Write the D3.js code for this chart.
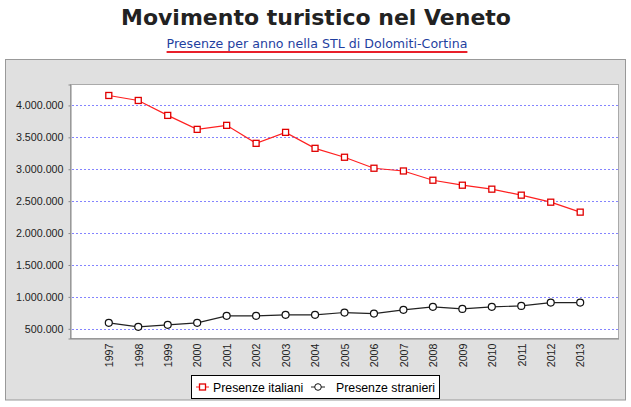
<!DOCTYPE html>
<html>
<head>
<meta charset="utf-8">
<script src="https://cdn.jsdelivr.net/npm/d3@7"></script>
<style>
  body { margin: 0; background: #fff; }
  svg { display: block; }
</style>
</head>
<body>
<svg width="631" height="407"></svg>
<script>
var years = ["1997","1998","1999","2000","2001","2002","2003","2004","2005","2006","2007","2008","2009","2010","2011","2012","2013"];
var italiani = [4156000, 4078000, 3844000, 3625000, 3688000, 3406000, 3578000, 3328000, 3188000, 3016000, 2973000, 2828000, 2750000, 2688000, 2594000, 2484000, 2328000];
var stranieri = [594000, 531000, 562000, 594000, 703000, 703000, 719000, 719000, 755000, 739000, 797000, 844000, 812000, 844000, 859000, 911000, 911000];
var yTicks = [500000, 1000000, 1500000, 2000000, 2500000, 3000000, 3500000, 4000000];
var seriesNames = ["Presenze italiani", "Presenze stranieri"];

var svg = d3.select("svg");

// outer gray panel
svg.append("rect")
  .attr("x", 5.5).attr("y", 59.5)
  .attr("width", 620).attr("height", 340.5)
  .attr("fill", "#e0e0e0")
  .attr("stroke", "#999");

// titles
svg.append("text")
  .attr("x", 316).attr("y", 25)
  .attr("text-anchor", "middle")
  .style("font-family", "DejaVu Sans")
  .style("font-weight", "bold")
  .style("font-size", "22px")
  .attr("fill", "#222")
  .text("Movimento turistico nel Veneto");

var sub = svg.append("text")
  .attr("x", 317).attr("y", 48)
  .attr("text-anchor", "middle")
  .style("font-family", "DejaVu Sans")
  .style("font-size", "12.6px")
  .attr("fill", "#1f3f9f")
  .text("Presenze per anno nella STL di Dolomiti-Cortina");
var sw = sub.node().getComputedTextLength();
svg.append("line")
  .attr("x1", 317 - sw / 2).attr("x2", 317 + sw / 2)
  .attr("y1", 52).attr("y2", 52)
  .attr("stroke", "#e8202a").attr("stroke-width", 2);

// plot area
var pLeft = 70.5, pTop = 84.5, pRight = 618.5, pBottom = 338.5;

var x = d3.scalePoint().domain(years).range([pLeft, pRight]).padding(1.3);
var y = d3.scaleLinear().domain([348000, 4328000]).range([pBottom, pTop]);

svg.append("rect")
  .attr("x", pLeft).attr("y", pTop)
  .attr("width", pRight - pLeft).attr("height", pBottom - pTop)
  .attr("fill", "#fff")
  .attr("stroke", "#aaa");

// gridlines
var grid = svg.append("g").attr("class", "grid");
yTicks.forEach(function(t) {
  var gy = Math.round(y(t)) + 0.5;
  grid.append("path")
    .attr("d", "M" + (pLeft + 1) + "," + gy + "H" + pRight)
    .attr("fill", "none")
    .attr("stroke", "#8484ff")
    .attr("stroke-width", 1)
    .attr("stroke-dasharray", "2,2")
    .attr("shape-rendering", "crispEdges");
});

// y axis
var fmt = function(d) { return d3.format(",")(d).replace(/,/g, "."); };
var yAxis = svg.append("g")
  .attr("transform", "translate(" + pLeft + ",0)")
  .call(d3.axisLeft(y).tickValues(yTicks).tickFormat(fmt).tickSize(2).tickPadding(5));
yAxis.select(".domain").attr("stroke", "#888");
yAxis.selectAll(".tick line").attr("stroke", "#888");
yAxis.selectAll("text")
  .style("font-family", "Liberation Sans")
  .style("font-size", "10.7px")
  .attr("fill", "#222");

// x axis
var xAxis = svg.append("g")
  .attr("transform", "translate(0," + pBottom + ")")
  .call(d3.axisBottom(x).tickSize(0));
xAxis.select(".domain").attr("stroke", "#888");
xAxis.selectAll("text")
  .style("font-family", "Liberation Sans")
  .style("font-size", "10.7px")
  .attr("fill", "#222")
  .attr("text-anchor", "end")
  .attr("transform", "rotate(-90)")
  .attr("x", -5)
  .attr("y", 0)
  .attr("dy", "0.35em");

// lines
var line = function(vals) {
  return d3.line()
    .x(function(d, i) { return x(years[i]); })
    .y(function(d) { return y(d); })(vals);
};

svg.append("path")
  .attr("d", line(stranieri))
  .attr("fill", "none")
  .attr("stroke", "#222")
  .attr("stroke-width", 1.2);

svg.append("path")
  .attr("d", line(italiani))
  .attr("fill", "none")
  .attr("stroke", "#ff2020")
  .attr("stroke-width", 1.2);

svg.append("g").selectAll("circle")
  .data(stranieri)
  .enter().append("circle")
  .attr("cx", function(d, i) { return x(years[i]); })
  .attr("cy", function(d) { return y(d); })
  .attr("r", 3.5)
  .attr("fill", "#fff")
  .attr("stroke", "#111")
  .attr("stroke-width", 1.2);

svg.append("g").selectAll("rect")
  .data(italiani)
  .enter().append("rect")
  .attr("x", function(d, i) { return x(years[i]) - 3; })
  .attr("y", function(d) { return y(d) - 3; })
  .attr("width", 6).attr("height", 6)
  .attr("fill", "#fff")
  .attr("stroke", "#e00000")
  .attr("stroke-width", 1.3);

// legend
var lg = svg.append("g");
lg.append("rect")
  .attr("x", 191.5).attr("y", 375.5)
  .attr("width", 248).attr("height", 23)
  .attr("fill", "#fff")
  .attr("stroke", "#000");

lg.append("line")
  .attr("x1", 196).attr("x2", 209).attr("y1", 387).attr("y2", 387)
  .attr("stroke", "#ff2020");
lg.append("rect")
  .attr("x", 199.5).attr("y", 384).attr("width", 6).attr("height", 6)
  .attr("fill", "#fff").attr("stroke", "#e00000").attr("stroke-width", 1.3);
lg.append("text")
  .attr("x", 213).attr("y", 391.5)
  .style("font-family", "Liberation Sans")
  .style("font-size", "12.3px")
  .attr("fill", "#000")
  .text(seriesNames[0]);

lg.append("line")
  .attr("x1", 311).attr("x2", 325).attr("y1", 387).attr("y2", 387)
  .attr("stroke", "#222");
lg.append("circle")
  .attr("cx", 318).attr("cy", 387).attr("r", 3.3)
  .attr("fill", "#fff").attr("stroke", "#111");
lg.append("text")
  .attr("x", 336).attr("y", 391.5)
  .style("font-family", "Liberation Sans")
  .style("font-size", "12.3px")
  .attr("fill", "#000")
  .text(seriesNames[1]);
</script>
</body>
</html>
